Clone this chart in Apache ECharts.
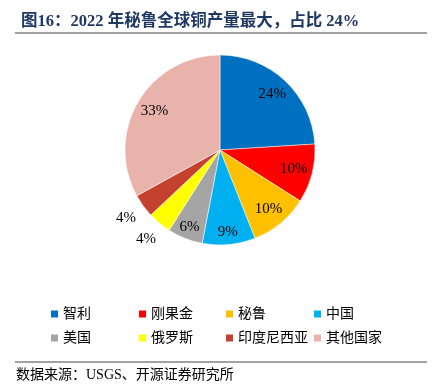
<!DOCTYPE html>
<html><head><meta charset="utf-8">
<script src="https://cdn.jsdelivr.net/npm/echarts@6/dist/echarts.min.js"></script>
<style>html,body{margin:0;padding:0;background:#fff}#c{width:435px;height:385px}</style>
</head><body><div id="c"></div>
<script>
const categories = ['智利','刚果金','秘鲁','中国','美国','俄罗斯','印度尼西亚','其他国家'];
const shares = [24, 10, 10, 9, 6, 4, 4, 33];
const colors = ['#0070C0','#FF0000','#FFC000','#00B0F0','#A5A5A5','#FFFF00','#C4402F','#E9B3AB'];
const titleText = '图16：2022 年秘鲁全球铜产量最大，占比 24%';
const sourceText = '数据来源：USGS、开源证券研究所';
const outerLabeled = ['俄罗斯','印度尼西亚'];
const rimLabeled = ['中国','美国'];

const FONT = '"Liberation Serif", "Noto Sans CJK SC", serif';
const chart = echarts.init(document.getElementById('c'));
const cx = 220, cy = 150, R = 95;
const pieData = categories.map((n,i)=>({name:n, value:shares[i], itemStyle:{color:colors[i]}}));
const group = (n) => outerLabeled.includes(n) ? 'outer' : (rimLabeled.includes(n) ? 'rim' : 'inner');
const lbl = (g) => categories.map((n,i)=>({name:n, value:shares[i], label:{show: group(n)===g}}));
const labelStyle = {position:'inside', formatter:'{c}%', color:'#000', fontSize:15, fontFamily:FONT};
const labelRing = (g, r0, r1) => ({type:'pie', center:[cx,cy], radius:[R*r0,R*r1], startAngle:90, data:lbl(g),
  itemStyle:{color:'rgba(0,0,0,0)'}, label:labelStyle, labelLine:{show:false}, silent:true,
  emphasis:{disabled:true}, legendHoverLink:false});
const colLeft = [46, 134, 221, 309];
const legends = colLeft.map((x,k)=>({
  data:[categories[k], categories[k+4]], orient:'vertical', left:x, top:302, itemWidth:7, itemHeight:7, itemGap:10,
  icon:'rect', itemStyle:{borderWidth:0},
  textStyle:{fontSize:14, color:'#000', fontFamily:FONT}
}));
chart.setOption({
  animation:false,
  title:{text:titleText, left:16, top:8, textStyle:{fontSize:16.5, fontWeight:'bold', color:'#1F3864', fontFamily:FONT}},
  legend:legends,
  graphic:[
    {type:'line', shape:{x1:15,y1:33,x2:427,y2:33}, style:{stroke:'#444', lineWidth:1}},
    {type:'line', shape:{x1:15,y1:362,x2:427,y2:362}, style:{stroke:'#444', lineWidth:1}},
    {type:'text', left:16, top:368, style:{text:sourceText, fill:'#000', font:'14px '+FONT}}
  ],
  series:[
    {type:'pie', center:[cx,cy], radius:[0,R], startAngle:90, data:pieData, label:{show:false}, labelLine:{show:false},
     itemStyle:{borderColor:'#fff', borderWidth:0.5}, emphasis:{disabled:true}, silent:true},
    labelRing('inner', 0.54, 1.0),
    labelRing('rim', 0.68, 1.0),
    labelRing('outer', 1.0, 1.38)
  ]
});
</script></body></html>
